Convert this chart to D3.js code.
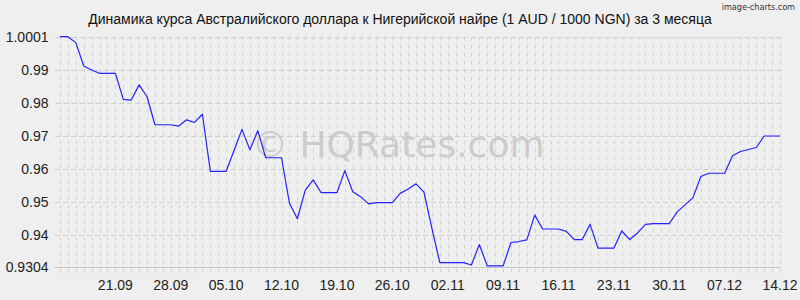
<!DOCTYPE html>
<html>
<head>
<meta charset="utf-8">
<script src="https://cdn.jsdelivr.net/npm/d3@7"></script>
<style>
  body { margin: 0; background: #efefef; }
  svg { display: block; }
</style>
</head>
<body>
<div id="chart"></div>
<script>
// AUD/NGN (x1000), daily, 14.09 - 14.12
const startDay = "14.09.2025";
const rates = [
  1.0001, 1.0001, 0.9983, 0.9912, 0.9900, 0.9890, 0.9890, 0.9890, 0.9811, 0.9809,
  0.9855, 0.9819, 0.9734, 0.9734, 0.9734, 0.9730, 0.9749, 0.9741, 0.9766, 0.9593,
  0.9593, 0.9593, 0.9656, 0.9720, 0.9658, 0.9716, 0.9634, 0.9634, 0.9634, 0.9496,
  0.9449, 0.9536, 0.9567, 0.9528, 0.9528, 0.9528, 0.9595, 0.9531, 0.9516, 0.9494,
  0.9498, 0.9498, 0.9498, 0.9526, 0.9539, 0.9555, 0.9530, 0.9421, 0.9316, 0.9316,
  0.9316, 0.9316, 0.9309, 0.9371, 0.9306, 0.9306, 0.9306, 0.9377, 0.9380, 0.9385,
  0.9460, 0.9418, 0.9418, 0.9418, 0.9411, 0.9386, 0.9386, 0.9432, 0.9360, 0.9360,
  0.9360, 0.9412, 0.9386, 0.9406, 0.9432, 0.9434, 0.9434, 0.9434, 0.9470, 0.9491,
  0.9513, 0.9577, 0.9587, 0.9587, 0.9587, 0.9640, 0.9653, 0.9659, 0.9665, 0.9700,
  0.9700, 0.9700
];
const xTickLabels = ["21.09", "28.09", "05.10", "12.10", "19.10", "26.10", "02.11",
                     "09.11", "16.11", "23.11", "30.11", "07.12", "14.12"];
const yTickValues = [0.9304, 0.94, 0.95, 0.96, 0.97, 0.98, 0.99, 1.0001];
const yMin = 0.9304, yMax = 1.0001;

const title = "Динамика курса Австралийского доллара к Нигерийской найре (1 AUD / 1000 NGN) за 3 месяца";

const width = 800, height = 300;
const margin = {top: 36.7, right: 20, bottom: 33.4, left: 60};

const parse = d3.timeParse("%d.%m.%Y");
const day0 = parse(startDay);
const data = rates.map((v, i) => ({date: d3.timeDay.offset(day0, i), value: v}));
const days = data.map(d => d.date);

const x = d3.scaleTime()
    .domain(d3.extent(days))
    .range([margin.left, width - margin.right]);
const y = d3.scaleLinear()
    .domain([yMin, yMax])
    .range([height - margin.bottom, margin.top]);

const svg = d3.select("#chart").append("svg")
    .attr("width", width)
    .attr("height", height)
    .style("font-family", "'Liberation Sans', Arial, sans-serif");

svg.append("rect")
    .attr("width", width).attr("height", height)
    .attr("fill", "#efefef");

// vertical day grid (runs a bit below the axis like the ticks do)
svg.append("g")
    .selectAll("line")
    .data(days)
    .join("line")
    .attr("x1", d => Math.round(x(d)) + 0.5)
    .attr("x2", d => Math.round(x(d)) + 0.5)
    .attr("y1", y(yMax))
    .attr("y2", y(yMin) + 10)
    .attr("stroke", "#d2d2d2")
    .attr("stroke-dasharray", "4,4");

// horizontal grid
svg.append("g")
    .selectAll("line")
    .data(yTickValues.slice(1))
    .join("line")
    .attr("x1", margin.left - 5)
    .attr("x2", width - margin.right)
    .attr("y1", d => Math.round(y(d)) + 0.5)
    .attr("y2", d => Math.round(y(d)) + 0.5)
    .attr("stroke", "#cfcfcf")
    .attr("stroke-dasharray", "5,3");

// bottom axis line
svg.append("line")
    .attr("x1", margin.left - 5)
    .attr("x2", width - margin.right)
    .attr("y1", Math.round(y(yMin)) + 0.5)
    .attr("y2", Math.round(y(yMin)) + 0.5)
    .attr("stroke", "#c4c4c4");

// watermark
svg.append("text")
    .attr("x", 252)
    .attr("y", 157)
    .attr("font-family", "'DejaVu Sans', Verdana, sans-serif")
    .attr("font-size", 36)
    .attr("fill", "#c6c6c6")
    .attr("fill-opacity", 0.85)
    .text("© HQRates.com");

// y labels
svg.append("g")
    .selectAll("text")
    .data(yTickValues)
    .join("text")
    .attr("x", 48.5)
    .attr("y", d => y(d) + 5)
    .attr("text-anchor", "end")
    .attr("font-size", 14)
    .attr("fill", "#222")
    .text(d => d === yMin || d === yMax ? String(d) : d3.format(".2f")(d).replace(/0$/, ""));

// x labels
svg.append("g")
    .selectAll("text")
    .data(xTickLabels)
    .join("text")
    .attr("x", d => x(parse(d + ".2025")))
    .attr("y", 290)
    .attr("text-anchor", "middle")
    .attr("font-size", 14)
    .attr("fill", "#222")
    .text(d => d);

// rate line
const line = d3.line()
    .x(d => x(d.date))
    .y(d => y(d.value));

svg.append("path")
    .datum(data)
    .attr("fill", "none")
    .attr("stroke", "#2222ff")
    .attr("stroke-width", 1.2)
    .attr("stroke-linejoin", "round")
    .attr("d", line);

// title
svg.append("text")
    .attr("x", 400)
    .attr("y", 24)
    .attr("text-anchor", "middle")
    .attr("font-size", 14)
    .attr("fill", "#111")
    .text(title);

svg.append("text")
    .attr("x", 795)
    .attr("y", 10)
    .attr("text-anchor", "end")
    .attr("font-family", "'DejaVu Sans Condensed', 'DejaVu Sans', sans-serif")
    .attr("font-size", 9)
    .attr("fill", "#333")
    .text("image-charts.com");
</script>
</body>
</html>
